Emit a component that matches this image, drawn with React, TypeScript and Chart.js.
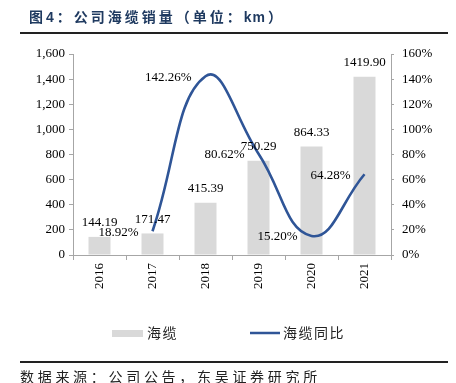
import React, { useEffect, useRef } from "react";
import { Chart, registerables } from "chart.js";

Chart.register(...registerables);

const titleParts = ["图4：公司海缆销量（单位：", "km", "）"];
const sourceText = "数据来源：公司公告，东吴证券研究所";
const years = ["2016", "2017", "2018", "2019", "2020", "2021"];
const cableSales = [144.19, 171.47, 415.39, 750.29, 864.33, 1419.9];
const cableYoY: (number | null)[] = [null, 18.92, 142.26, 80.62, 15.2, 64.28];
const barLabel = "海缆";
const lineLabel = "海缆同比";

const BAR_COLOR = "#d9d9d9";
const LINE_COLOR = "#2f5597";
const AXIS_COLOR = "#a6a6a6";
const SERIF = "'Liberation Serif', 'Times New Roman', serif";

const decorPlugin = {
  id: "decor",
  afterDraw(chart: any) {
    const ctx = chart.ctx as CanvasRenderingContext2D;
    ctx.save();
    // title
    ctx.fillStyle = "#1f3a60";
    ctx.font = "bold 14px 'Liberation Sans', 'Noto Sans CJK SC', sans-serif";
    ctx.textAlign = "left";
    ctx.textBaseline = "middle";
    let tx = 29;
    const spacings = ["3px", "1px", "0px"];
    titleParts.forEach((part, i) => {
      (ctx as any).letterSpacing = spacings[i];
      ctx.fillText(part, tx, 18);
      tx += ctx.measureText(part).width + (i === 1 ? 2 : 0);
    });
    (ctx as any).letterSpacing = "0px";
    // rules
    ctx.fillStyle = "#222";
    ctx.fillRect(20, 32, 428, 2);
    ctx.fillRect(20, 361, 428, 2);
    // source
    ctx.fillStyle = "#222";
    ctx.font = "14px 'Noto Sans CJK SC', sans-serif";
    (ctx as any).letterSpacing = "3.7px";
    ctx.fillText(sourceText, 20, 377);
    // legend
    (ctx as any).letterSpacing = "1.5px";
    ctx.font = "14px 'Noto Sans CJK SC', sans-serif";
    ctx.fillStyle = BAR_COLOR;
    ctx.fillRect(112, 330, 31, 7);
    ctx.fillStyle = "#222";
    ctx.fillText(barLabel, 147, 333);
    ctx.strokeStyle = LINE_COLOR;
    ctx.lineWidth = 2.5;
    ctx.beginPath();
    ctx.moveTo(250, 333);
    ctx.lineTo(280, 333);
    ctx.stroke();
    ctx.fillText(lineLabel, 283, 333);
    (ctx as any).letterSpacing = "0px";

    // data labels
    ctx.font = `13px ${SERIF}`;
    ctx.fillStyle = "#000";
    const barMeta = chart.getDatasetMeta(0);
    barMeta.data.forEach((el: any, i: number) => {
      ctx.textAlign = "center";
      ctx.textBaseline = "middle";
      ctx.fillText(cableSales[i].toFixed(2), el.x, el.y - 14);
    });
    const lineMeta = chart.getDatasetMeta(1);
    lineMeta.data.forEach((el: any, i: number) => {
      const v = cableYoY[i];
      if (v == null) return;
      ctx.textAlign = "right";
      ctx.textBaseline = "middle";
      ctx.fillText(v.toFixed(2) + "%", el.x - 14, el.y + 1);
    });
    ctx.restore();
  },
};

export default function App() {
  const ref = useRef<HTMLCanvasElement | null>(null);
  useEffect(() => {
    document.body.style.margin = "0";
    const canvas = ref.current!;
    const chart = new Chart(canvas, {
      data: {
        labels: years,
        datasets: [
          {
            type: "bar",
            label: barLabel,
            data: cableSales,
            backgroundColor: BAR_COLOR,
            borderWidth: 0,
            barPercentage: 0.415,
            categoryPercentage: 1,
            yAxisID: "y",
            order: 2,
          },
          {
            type: "line",
            label: lineLabel,
            data: cableYoY,
            borderColor: LINE_COLOR,
            borderWidth: 2.6,
            pointRadius: 0,
            tension: 0.45,
            fill: false,
            spanGaps: false,
            yAxisID: "y1",
            order: 1,
          },
        ],
      } as any,
      options: {
        responsive: false,
        animation: false,
        devicePixelRatio: 1,
        layout: { padding: { top: 54, bottom: 78, left: 0, right: 0 } },
        plugins: {
          legend: { display: false },
          tooltip: { enabled: false },
          title: { display: false },
        },
        scales: {
          x: {
            grid: {
              display: true,
              drawOnChartArea: false,
              drawTicks: true,
              tickLength: 5,
              color: AXIS_COLOR,
              offset: true,
            },
            border: { display: true, color: AXIS_COLOR },
            ticks: {
              maxRotation: 90,
              minRotation: 90,
              padding: 3,
              color: "#000",
              font: { family: SERIF, size: 13 },
            },
            afterFit: (s: any) => {
              s.height = 50;
            },
          },
          y: {
            position: "left",
            min: 0,
            max: 1600,
            grid: {
              display: true,
              drawOnChartArea: false,
              drawTicks: true,
              tickLength: 4,
              color: AXIS_COLOR,
            },
            border: { display: true, color: AXIS_COLOR },
            ticks: {
              stepSize: 200,
              padding: 4,
              color: "#000",
              font: { family: SERIF, size: 13 },
              callback: (v: any) => Number(v).toLocaleString("en-US"),
            },
            afterFit: (s: any) => {
              s.width = 73;
            },
          },
          y1: {
            position: "right",
            min: 0,
            max: 160,
            grid: {
              display: true,
              drawOnChartArea: false,
              drawTicks: true,
              tickLength: 3,
              color: AXIS_COLOR,
            },
            border: { display: true, color: AXIS_COLOR },
            ticks: {
              stepSize: 20,
              padding: 8,
              color: "#000",
              font: { family: SERIF, size: 13 },
              callback: (v: any) => v + "%",
            },
            afterFit: (s: any) => {
              s.width = 65;
            },
          },
        },
      } as any,
      plugins: [decorPlugin],
    });
    return () => chart.destroy();
  }, []);
  return (
    <div style={{ width: 456, height: 383, background: "#fff" }}>
      <canvas ref={ref} width={456} height={383} style={{ display: "block" }} />
    </div>
  );
}
